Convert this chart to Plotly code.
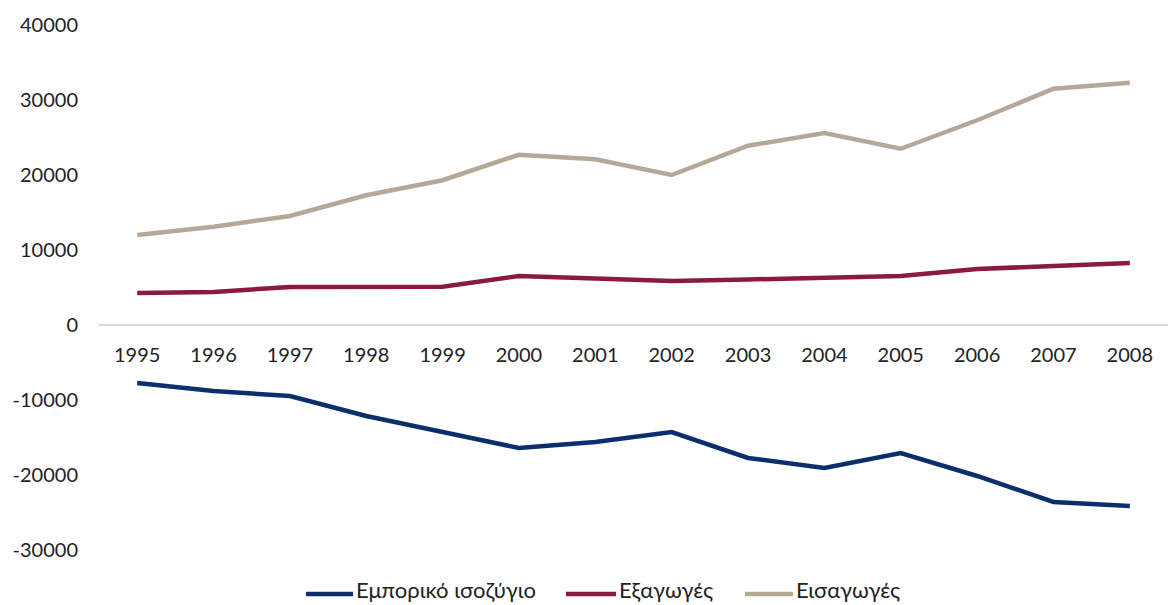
import plotly.graph_objects as go

years = ["1995","1996","1997","1998","1999","2000","2001","2002","2003","2004","2005","2006","2007","2008"]
balance = [-7730,-8800,-9470,-12130,-14270,-16400,-15600,-14270,-17730,-19070,-17070,-20130,-23600,-24130]
exports = [4270,4400,5070,5100,5100,6530,6270,5870,6070,6270,6530,7470,7870,8270]
imports = [12000,13100,14530,17300,19300,22700,22100,20000,23900,25600,23500,27300,31500,32300]

ytick_vals = [-30000, -20000, -10000, 0, 10000, 20000, 30000, 40000]
ytick_text = ["-30000", "-20000", "-10000", "0", "10000", "20000", "30000", "40000"]

names = ["Εμπορικό ισοζύγιο", "Εξαγωγές", "Εισαγωγές"]
colors = ["#0B2E6C", "#8B1A3F", "#B6A898"]
series = [balance, exports, imports]

FONT = "Lato"
W, H = 1168, 605
ML, MR, MT, MB = 99, 0, 25, 55
PW, PH = W - ML - MR, H - MT - MB

fig = go.Figure()
for n, c, s in zip(names, colors, series):
    fig.add_trace(go.Scatter(x=years, y=s, name=n, mode="lines", showlegend=False,
                             line=dict(color=c, width=4.5)))

# custom legend (line sample + label), positioned in pixels converted to paper coords
leg_line_px = [(306, 353), (566, 616), (745, 793)]
leg_y_px = 594
def px_x(p):
    return (p - ML) / PW
def px_y(p):
    return (H - MB - p) / PH

for (x0, x1), n, c in zip(leg_line_px, names, colors):
    fig.add_shape(type="line", xref="paper", yref="paper",
                  x0=px_x(x0), x1=px_x(x1), y0=px_y(leg_y_px), y1=px_y(leg_y_px),
                  line=dict(color=c, width=4.5))
    fig.add_annotation(xref="paper", yref="paper", x=px_x(x1 + 2), y=px_y(604),
                       text=n, showarrow=False, xanchor="left", yanchor="bottom",
                       borderpad=0,
                       font=dict(family=FONT, size=22, color="#222222"))

ymin, ymax = -30000, 40000
fig.update_layout(
    width=W, height=H,
    margin=dict(l=ML, r=MR, t=MT, b=MB, autoexpand=False),
    plot_bgcolor="white", paper_bgcolor="white",
    font=dict(family=FONT, size=20, color="#222222"),
    showlegend=False,
    xaxis=dict(type="category", range=[-0.5, 13.5], anchor="free",
               position=(0 - ymin) / (ymax - ymin), automargin=False,
               showline=True, linecolor="#D9D9D9", linewidth=1.5,
               showgrid=False, zeroline=False, ticks="", ticklabelstandoff=12,
               tickfont=dict(size=20)),
    yaxis=dict(range=[ymin, ymax], tickvals=ytick_vals, ticktext=ytick_text,
               showgrid=False, zeroline=False, automargin=False,
               showline=False, ticks="", ticklabelstandoff=20,
               tickfont=dict(size=20)),
)
fig.write_html("out.html", config={"displayModeBar": False},
               post_script="document.body.style.margin='0';document.body.style.overflow='hidden';")
